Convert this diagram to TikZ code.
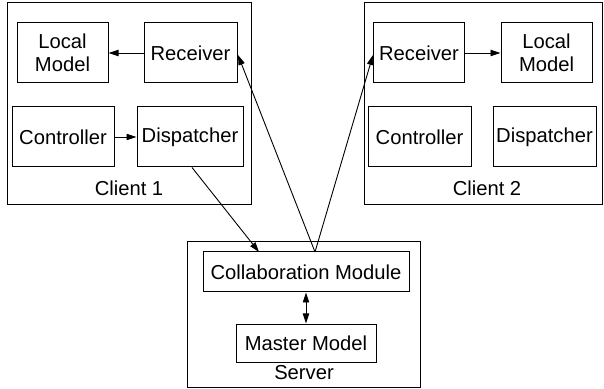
\documentclass[tikz,border=0pt]{standalone}
\usepackage{fontspec}
\setmainfont{Liberation Sans}
\usetikzlibrary{arrows.meta}
\begin{document}
\begin{tikzpicture}[x=0.5pt,y=-0.5pt,
  box/.style={draw,line width=0.5pt,inner sep=0pt,align=center,font=\fontsize{10.1}{11.6}\selectfont},
  lbl/.style={inner sep=0pt,font=\fontsize{10.1}{11.6}\selectfont},
  con/.style={line width=0.45pt,-{Triangle[length=5pt,width=3.2pt]}},
  dcon/.style={line width=0.45pt,{Triangle[length=5pt,width=3.2pt]}-{Triangle[length=5pt,width=3.2pt]}}]
\useasboundingbox (0,0) rectangle (604,389);
% Client 1
\node[box,minimum width=122pt,minimum height=101pt] (c1) at (129.5,104) {};
\node[lbl] (c1l) at (129,188) {Client 1};
\node[box,minimum width=45.5pt,minimum height=30pt] (lm1) at (62.5,53) {Local\\Model};
\node[box,minimum width=46.5pt,minimum height=30pt] (r1) at (190.5,53) {Receiver};
\node[box,minimum width=51pt,minimum height=30pt] (ct1) at (63,137) {Controller};
\node[box,minimum width=53pt,minimum height=30pt] (d1) at (190,137) {Dispatcher};
% Client 2
\node[box,minimum width=119pt,minimum height=101pt] (c2) at (483,104) {};
\node[lbl] (c2l) at (487,188) {Client 2};
\node[box,minimum width=45.5pt,minimum height=30pt] (r2) at (419,53) {Receiver};
\node[box,minimum width=45.5pt,minimum height=30pt] (lm2) at (546.5,53) {Local\\Model};
\node[box,minimum width=51.5pt,minimum height=30pt] (ct2) at (419.5,137) {Controller};
\node[box,minimum width=51.5pt,minimum height=30pt] (d2) at (544.5,137) {Dispatcher};
% Server
\node[box,minimum width=116.5pt,minimum height=72.5pt] (sv) at (303.5,314.5) {};
\node[lbl] (svl) at (304,373) {Server};
\node[box,minimum width=103pt,minimum height=20pt] (cm) at (306,272) {Collaboration Module};
\node[box,minimum width=70pt,minimum height=19pt] (mm) at (306,343) {Master Model};
% connectors
\draw[con] (r1) -- (lm1);
\draw[con] (ct1) -- (d1);
\draw[con] (r2) -- (lm2);
\coordinate (cmt) at (315,252);
\draw[con] (d1.south) ++(2,0) -- (259,252);
\draw[con] (cmt) -- (238,55);
\draw[con] (cmt) -- (373,55);
\draw[dcon] (cm) -- (mm);
\end{tikzpicture}
\end{document}
